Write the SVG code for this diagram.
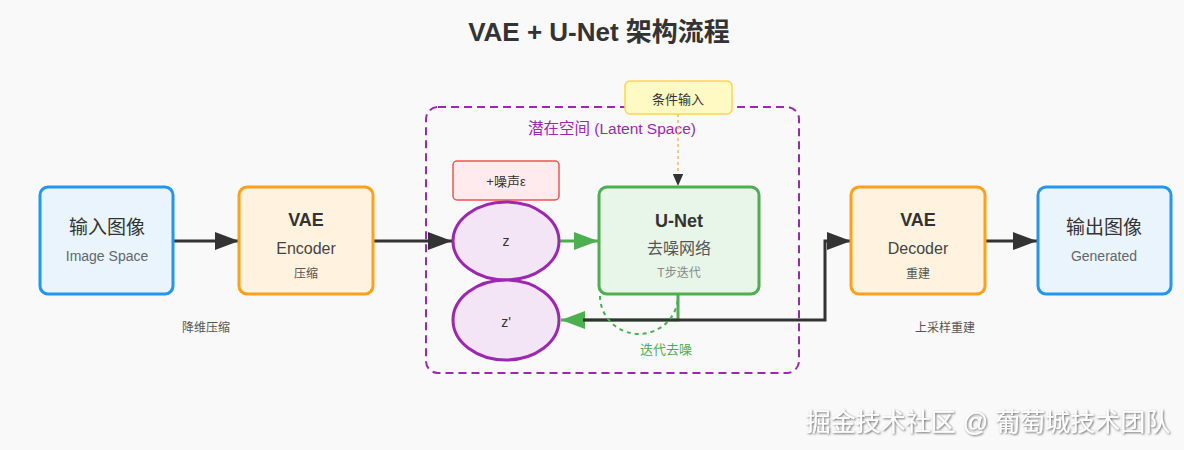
<svg xmlns="http://www.w3.org/2000/svg" width="1184" height="450" viewBox="0 0 1184 450">
<defs>
<style>
text{font-family:"Liberation Sans","Noto Sans CJK SC",sans-serif;text-anchor:middle}
.box{stroke-width:3}
.img{fill:#e9f4fc;stroke:#2196f3}
.vae{fill:#fff3e0;stroke:#ff9f1a}
.t1{font-size:19px;fill:#333}
.tb{font-size:18px;font-weight:bold;fill:#333}
.t2{font-size:16px;fill:#444}
.t3{font-size:14px;fill:#666}
.t4{font-size:12px;fill:#555}
.lat{fill:#f3e5f5;stroke:#9c27b0;stroke-width:3}
.conn{fill:none;stroke:#333;stroke-width:3}
.green{fill:none;stroke:#4caf50;stroke-width:3}
</style>
<marker id="ab" viewBox="0 0 10 10" refX="10" refY="5" markerWidth="8" markerHeight="6" orient="auto" markerUnits="strokeWidth" preserveAspectRatio="none"><path d="M0,0L10,5L0,10z" fill="#333"/></marker>
<marker id="ag" viewBox="0 0 10 10" refX="10" refY="5" markerWidth="8" markerHeight="6" orient="auto" markerUnits="strokeWidth" preserveAspectRatio="none"><path d="M0,0L10,5L0,10z" fill="#4caf50"/></marker>
<marker id="as" viewBox="0 0 10 10" refX="10" refY="5" markerWidth="8" markerHeight="7" orient="auto" markerUnits="strokeWidth" preserveAspectRatio="none"><path d="M0,0L10,5L0,10z" fill="#333"/></marker>
<filter id="sh" x="-5%" y="-20%" width="110%" height="140%"><feDropShadow dx="1" dy="1" stdDeviation="0.8" flood-color="#555" flood-opacity="0.9"/></filter>
</defs>
<rect width="1184" height="450" fill="#f9f9f9"/>
<text x="599" y="41" style="font-size:26px;font-weight:bold;fill:#333">VAE + U-Net 架构流程</text>

<g id="latent">
<rect x="426" y="107" width="373" height="266" rx="12" fill="none" stroke="#9c27b0" stroke-width="2" stroke-dasharray="8,5"/>
<text x="612" y="134" style="font-size:15.5px;fill:#9c27b0">潜在空间 (Latent Space)</text>
</g>

<g id="connectors">
<line x1="173" y1="241" x2="239" y2="241" class="conn" marker-end="url(#ab)"/>
<line x1="373" y1="241" x2="452" y2="241" class="conn" marker-end="url(#ab)"/>
<line x1="560" y1="241" x2="598" y2="241" class="green" marker-end="url(#ag)"/>
<line x1="678" y1="114" x2="678" y2="186" fill="none" stroke="#ffb74d" stroke-width="1.5" stroke-dasharray="3,3" marker-end="url(#as)"/>
<path d="M678 294V320H561" class="green" marker-end="url(#ag)"/>
<path d="M583 320H825V241H851" class="conn" stroke-width="2.5" marker-end="url(#ab)"/>
<path d="M600 296A39 38 0 0 0 678 296" fill="none" stroke="#4caf50" stroke-width="2" stroke-dasharray="4,4"/>
<text x="666" y="354" style="font-size:13px;fill:#4caf50">迭代去噪</text>
<line x1="985" y1="241" x2="1037" y2="241" class="conn" marker-end="url(#ab)"/>
<text x="206" y="332" class="t4">降维压缩</text>
<text x="945" y="332" class="t4">上采样重建</text>
</g>

<g id="input">
<rect x="40" y="187" width="133" height="107" rx="8" class="box img"/>
<text x="107" y="234" class="t1">输入图像</text>
<text x="107" y="261" class="t3">Image Space</text>
</g>

<g id="encoder">
<rect x="239" y="187" width="134" height="107" rx="8" class="box vae"/>
<text x="306" y="226" class="tb">VAE</text>
<text x="306" y="254" class="t2">Encoder</text>
<text x="306" y="278" class="t4">压缩</text>
</g>

<g id="condition">
<rect x="625" y="81" width="107" height="33" rx="5" fill="#fff9c4" stroke="#ffd54f" stroke-width="1.5"/>
<text x="678" y="104" style="font-size:13px;fill:#333">条件输入</text>
</g>

<g id="noise">
<rect x="453" y="161" width="106" height="39" rx="4" fill="#ffebee" stroke="#ef5350" stroke-width="1.5"/>
<text x="506" y="186" style="font-size:13px;fill:#333">+噪声ε</text>
</g>

<g id="z">
<ellipse cx="506" cy="241" rx="53" ry="39" class="lat"/>
<text x="506" y="246" style="font-size:14px;fill:#333">z</text>
</g>

<g id="zprime">
<ellipse cx="506" cy="320" rx="53" ry="40" class="lat"/>
<text x="506" y="327" style="font-size:14px;fill:#333">z'</text>
</g>

<g id="unet">
<rect x="599" y="187" width="160" height="107" rx="8" class="box" fill="#e8f5e9" stroke="#4caf50"/>
<text x="679" y="227" class="tb">U-Net</text>
<text x="679" y="254" style="font-size:16px;fill:#555">去噪网络</text>
<text x="679" y="277" style="font-size:12px;fill:#888">T步迭代</text>
</g>

<g id="decoder">
<rect x="851" y="187" width="134" height="107" rx="8" class="box vae"/>
<text x="918" y="226" class="tb">VAE</text>
<text x="918" y="254" class="t2">Decoder</text>
<text x="918" y="278" class="t4">重建</text>
</g>

<g id="output">
<rect x="1038" y="187" width="133" height="107" rx="8" class="box img"/>
<text x="1104" y="234" class="t1">输出图像</text>
<text x="1104" y="261" class="t3">Generated</text>
</g>

<text x="988" y="431" filter="url(#sh)" style="font-size:25px;fill:#fff">掘金技术社区 @ 葡萄城技术团队</text>
</svg>
